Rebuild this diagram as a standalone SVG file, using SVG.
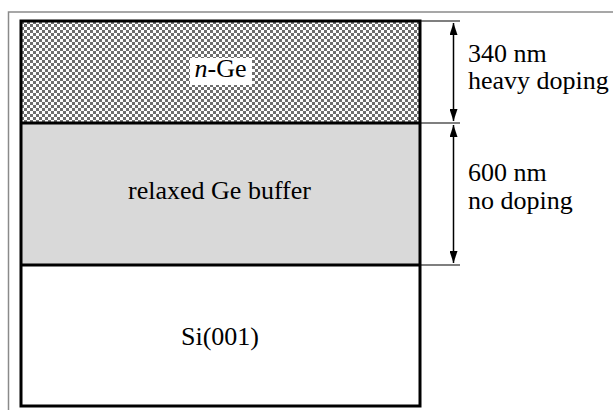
<svg xmlns="http://www.w3.org/2000/svg" width="613" height="410" viewBox="0 0 613 410">
  <style>
    text { font-family: 'Liberation Serif', 'Times New Roman', serif; font-size: 26px; fill: #000; }
    .thick { stroke: #000; stroke-width: 3; fill: none; }
    .thin { stroke: #000; stroke-width: 1.2; fill: none; }
    .dim { stroke: #000; stroke-width: 1.5; fill: none; marker-start: url(#ah); marker-end: url(#ah); }
  </style>
  <defs>
    <pattern id="checker" x="0" y="0" width="6" height="6" patternUnits="userSpaceOnUse">
      <rect width="6" height="6" fill="#ffffff"/>
      <rect x="0" y="0" width="3" height="3" fill="#6e6e6e"/>
      <rect x="3" y="3" width="3" height="3" fill="#6e6e6e"/>
    </pattern>
    <marker id="ah" viewBox="0 0 12 8" refX="12" refY="4" markerWidth="12" markerHeight="8" markerUnits="userSpaceOnUse" orient="auto-start-reverse">
      <path d="M0,0 L12,4 L0,8 Z" fill="#000"/>
    </marker>
  </defs>
  <rect width="613" height="410" fill="#ffffff"/>
  <rect id="frame" x="8.5" y="12" width="700" height="500" fill="none" stroke="#8a8a8a" stroke-width="1.5"/>

  <g id="n-ge">
    <rect x="21" y="21" width="399" height="102" fill="url(#checker)"/>
    <rect x="190" y="58" width="62" height="27" fill="#ffffff"/>
    <text x="220.5" y="77" text-anchor="middle"><tspan font-style="italic">n</tspan>-Ge</text>
  </g>

  <g id="ge-buffer">
    <rect x="21" y="123" width="399" height="142" fill="#d9d9d9"/>
    <text x="219.5" y="199" text-anchor="middle">relaxed Ge buffer</text>
  </g>

  <g id="si-substrate">
    <rect x="21" y="265" width="399" height="141" fill="#ffffff"/>
    <text x="220" y="345" text-anchor="middle">Si(001)</text>
  </g>

  <g id="outline">
    <rect class="thick" x="21" y="21" width="399" height="385"/>
    <line class="thick" x1="21" y1="123" x2="420" y2="123"/>
    <line class="thick" x1="21" y1="265" x2="420" y2="265"/>
  </g>

  <g id="connectors">
    <line class="thin" x1="420" y1="21" x2="460" y2="21"/>
    <line class="thin" x1="420" y1="123" x2="460" y2="123"/>
    <line class="thin" x1="420" y1="265" x2="460" y2="265"/>
    <line class="dim" x1="453.5" y1="23" x2="453.5" y2="121"/>
    <line class="dim" x1="453.5" y1="125" x2="453.5" y2="263"/>
  </g>

  <g id="dim-labels">
    <text x="468" y="62">340 nm</text>
    <text x="468" y="89">heavy doping</text>
    <text x="468" y="181">600 nm</text>
    <text x="468" y="209">no doping</text>
  </g>
</svg>
